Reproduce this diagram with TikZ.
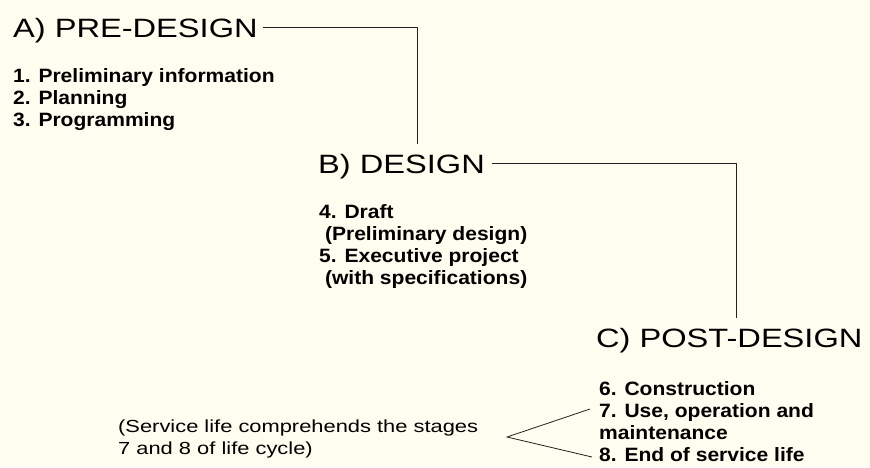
\documentclass[tikz,border=0pt]{standalone}
\usepackage{fontspec}
\setmainfont{Liberation Sans}
\newfontfamily\hfam[FakeStretch=1.23]{Liberation Sans}
\newfontfamily\bfam[FakeStretch=1.09]{Liberation Sans}
\newfontfamily\nfam[FakeStretch=1.25]{Liberation Sans}
\definecolor{bgcream}{HTML}{FFFCF0}
\definecolor{inkline}{HTML}{222222}
\tikzset{
  head/.style={font=\hfam\fontsize{26.5}{30}\selectfont, inner sep=0pt, anchor=base west, text depth=0pt},
  items/.style={font=\bfam\bfseries\fontsize{19.3}{22}\selectfont, inner sep=0pt, anchor=base west},
  notetext/.style={font=\nfam\fontsize{17.5}{22}\selectfont, inner sep=0pt, anchor=base west},
  link/.style={line width=1pt, draw=inkline}
}
\begin{document}
\begin{tikzpicture}[x=1pt,y=-1pt]
\fill[bgcream] (0,0) rectangle (870,467);
\useasboundingbox (0,0) rectangle (870,467);

% headings
\node[head] (A) at (13,37) {A) PRE-DESIGN};
\node[head] (B) at (318,173) {B) DESIGN};
\node[head] (C) at (596,347) {C) POST-DESIGN};

% item lists
\node[items] (Aitems) at (13,82) {\begin{tabular}[t]{@{}l@{}}1. Preliminary information\\2. Planning\\3. Programming\end{tabular}};
\node[items] (Bitems) at (319,218) {\begin{tabular}[t]{@{}l@{}}4. Draft\\\ (Preliminary design)\\5. Executive project\\\ (with specifications)\end{tabular}};
\node[items] (Citems) at (599,395) {\begin{tabular}[t]{@{}l@{}}6. Construction\\7. Use, operation and\\maintenance\\8. End of service life\end{tabular}};

% note
\node[notetext] (note) at (118,432) {\begin{tabular}[t]{@{}l@{}}(Service life comprehends the stages\\7 and 8 of life cycle)\end{tabular}};

% connectors
\coordinate (kAB) at (417,0);
\coordinate (kBC) at (736,0);
\path (kAB |- B.north) coordinate (endAB);
\path (kBC |- C.north) coordinate (endBC);
\draw[link] ([xshift=5pt]A.east) -| ([yshift=10pt]endAB);
\draw[link] ([xshift=7pt]B.east) -| ([yshift=10pt]endBC);

% wedge
\coordinate (apex) at (507,437);
\coordinate (wUp) at (590,409);
\coordinate (wDown) at (592,457);
\draw[link, line width=0.8pt] (wUp) -- (apex) -- (wDown);
\end{tikzpicture}
\end{document}
